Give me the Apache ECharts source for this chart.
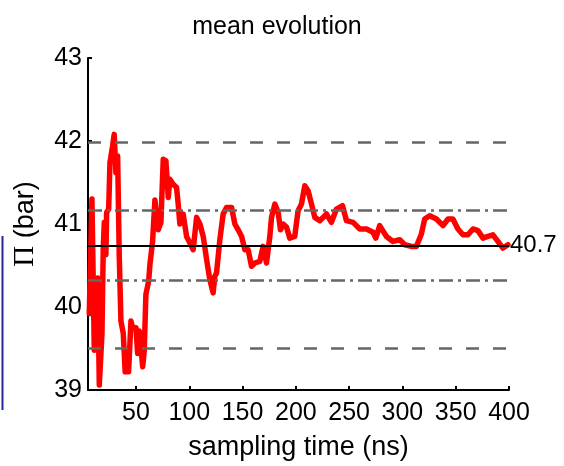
<!DOCTYPE html>
<html>
<head>
<meta charset="utf-8">
<style>
  html, body { margin: 0; padding: 0; background: #fff; }
  #chart { width: 564px; height: 466px; }
</style>
<script src="https://cdn.jsdelivr.net/npm/echarts@6/dist/echarts.min.js"></script>
</head>
<body>
<div id="chart"></div>
<script>
// Running mean of the pressure versus the length of the sampling window
const samplingTime = [
  6.2, 8.7, 10.9, 14.1, 15.6, 18.1, 19.3, 20.3, 21.8, 22.5, 24.4, 25.6, 28.1, 29.6, 31.2, 32.8,
  34.3, 35.9, 38.1, 39.9, 43.1, 45.3, 46.9, 50.0, 51.6, 53.1, 54.7, 56.3, 57.8, 59.3, 61.9, 63.1,
  65.6, 67.8, 70.9, 73.4, 75.6, 78.1, 80.3, 81.8, 84.9, 88.1, 89.6, 91.2, 94.3, 97.5, 100.6, 103.7,
  106.9, 110.0, 113.1, 116.3, 119.3, 122.4, 124.0, 125.6, 128.7, 131.8, 135.0, 139.7, 142.8, 145.9,
  149.1, 152.2, 155.3, 158.4, 161.5, 166.2, 169.3, 172.5, 175.6, 177.2, 180.3, 183.4, 185.6, 188.1,
  191.3, 194.3, 199.0, 202.1, 205.3, 208.4, 211.5, 214.7, 217.8, 222.5, 228.8, 233.4, 238.1, 243.8,
  247.5, 253.7, 260.0, 266.3, 272.4, 275.0, 278.7, 285.0, 291.2, 297.5, 302.2, 308.4, 313.1, 317.8,
  320.9, 325.6, 331.9, 338.1, 342.8, 347.4, 352.1, 356.8, 361.5, 366.2, 370.9, 375.6, 380.3, 384.9,
  389.6, 394.3, 399.0
];
const meanPressure = [
  39.92, 41.30, 39.48, 40.35, 39.06, 39.68, 40.70, 41.02, 40.63, 41.14, 41.18, 41.74, 41.94, 42.08, 41.62, 41.82,
  40.63, 39.83, 39.68, 39.22, 39.22, 39.83, 39.75, 39.75, 39.44, 39.71, 39.52, 39.28, 39.48, 40.15, 40.31, 40.51,
  40.79, 41.29, 40.93, 41.02, 41.78, 41.76, 41.32, 41.54, 41.48, 41.44, 41.24, 41.00, 41.12, 40.85, 40.77, 40.69,
  41.08, 41.00, 40.85, 40.57, 40.33, 40.17, 40.37, 40.41, 40.81, 41.12, 41.20, 41.20, 41.00, 40.93,
  40.85, 40.69, 40.69, 40.49, 40.53, 40.55, 40.73, 40.53, 40.85, 41.08, 41.24, 41.14, 40.93, 41.00,
  40.96, 40.83, 40.85, 41.16, 41.24, 41.46, 41.40, 41.24, 41.08, 41.04, 41.12, 41.02, 41.18, 41.22,
  41.04, 41.02, 40.94, 40.94, 40.90, 40.83, 40.98, 40.85, 40.79, 40.81, 40.75, 40.73, 40.73, 40.88,
  41.06, 41.10, 41.06, 40.98, 41.06, 41.06, 40.94, 40.87, 40.87, 40.94, 40.92, 40.83, 40.85, 40.87,
  40.79, 40.71, 40.75
];

// Overall mean and the bands drawn around it
const overallMean = 40.74;
const innerBand = [40.32, 41.16];   // dash-dot
const outerBand = [39.50, 41.98];   // dashed

const xTicks = [50, 100, 150, 200, 250, 300, 350, 400];
const yTicks = [39, 40, 41, 42, 43];

const FONT = "'Liberation Sans', Arial, Helvetica, sans-serif";
const points = samplingTime.map((t, i) => [t, meanPressure[i]]);

const grey = '#666666';
const bandStyle = (type) => ({ color: grey, width: 2.5, type: type });

const chart = echarts.init(document.getElementById('chart'), null, { renderer: 'canvas' });
chart.setOption({
  animation: false,
  backgroundColor: '#ffffff',
  textStyle: { fontFamily: FONT },
  grid: { left: 88, right: 55, top: 58, bottom: 72, containLabel: false },
  xAxis: {
    type: 'value',
    min: 5,
    max: 400,
    name: 'sampling time (ns)',
    nameLocation: 'middle',
    nameGap: 44,
    nameTextStyle: { fontSize: 27, color: '#000', fontFamily: FONT },
    axisLine: { show: true, lineStyle: { color: '#000', width: 2 } },
    axisTick: { show: true, inside: true, length: 4, customValues: xTicks, lineStyle: { color: '#000', width: 2 } },
    axisLabel: { fontSize: 25, color: '#000', margin: 11, customValues: xTicks, fontFamily: FONT },
    splitLine: { show: false }
  },
  yAxis: {
    type: 'value',
    min: 39,
    max: 43,
    interval: 1,
    name: '{pi|Π} (bar)',
    nameLocation: 'middle',
    nameGap: 48,
    nameTextStyle: {
      fontSize: 27, color: '#000', fontFamily: FONT,
      rich: { pi: { fontSize: 29, fontFamily: "'Liberation Serif', 'Times New Roman', serif", color: '#000' } }
    },
    axisLine: { show: true, lineStyle: { color: '#000', width: 2 } },
    axisTick: { show: true, inside: true, length: 4, customValues: yTicks, lineStyle: { color: '#000', width: 2 } },
    axisLabel: { fontSize: 25, color: '#000', margin: 6, customValues: yTicks, fontFamily: FONT },
    splitLine: { show: false }
  },
  series: [
    {
      // reference lines: mean and bands
      type: 'line',
      data: [],
      z: 1,
      silent: true,
      markLine: {
        silent: true,
        symbol: 'none',
        animation: false,
        data: [
          { yAxis: outerBand[1], lineStyle: bandStyle([13, 14]), label: { show: false } },
          { yAxis: outerBand[0], lineStyle: bandStyle([13, 14]), label: { show: false } },
          { yAxis: innerBand[1], lineStyle: bandStyle([14, 5, 3, 5]), label: { show: false } },
          { yAxis: innerBand[0], lineStyle: bandStyle([14, 5, 3, 5]), label: { show: false } },
          {
            yAxis: overallMean,
            lineStyle: { color: '#000', width: 2, type: 'solid' },
            label: {
              show: true, position: 'end', distance: 1,
              formatter: () => overallMean.toFixed(1),
              fontSize: 24, color: '#000', fontFamily: FONT
            }
          }
        ]
      }
    },
    {
      type: 'line',
      data: points,
      z: 3,
      showSymbol: false,
      symbol: 'none',
      clip: true,
      lineStyle: { color: '#ff0000', width: 5.5, join: 'round', cap: 'round' }
    }
  ],
  graphic: [
    {
      type: 'text',
      x: 277,
      y: 27,
      style: {
        text: 'mean evolution',
        fontSize: 25, fontFamily: FONT, fill: '#000',
        align: 'center', verticalAlign: 'middle'
      }
    },
    {
      type: 'line',
      shape: { x1: 2.5, y1: 236, x2: 2.5, y2: 410 },
      style: { stroke: '#24249c', lineWidth: 2 }
    }
  ]
});
</script>
</body>
</html>
